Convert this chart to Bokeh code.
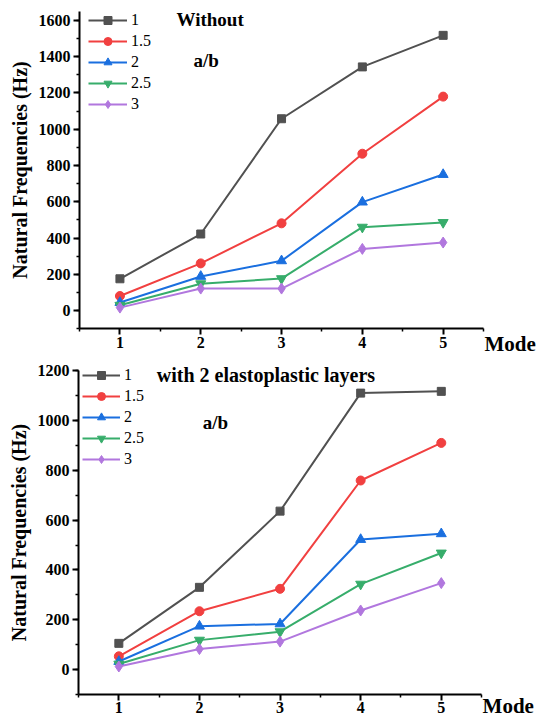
from bokeh.plotting import figure
from bokeh.layouts import column
from bokeh.models import Legend, LegendItem, Label, FixedTicker, Range1d
from bokeh.embed import file_html
from bokeh.resources import INLINE

# Vibration modes on the x axis
modes = [1, 2, 3, 4, 5]

# Aspect ratios a/b shown in the legends
ratios = ["1", "1.5", "2", "2.5", "3"]

# Natural frequencies (Hz) without elastoplastic layers
without_1 = [175, 422, 1058, 1344, 1518]
without_1_5 = [80, 260, 481, 865, 1180]
without_2 = [44, 188, 274, 598, 750]
without_2_5 = [29, 148, 176, 460, 486]
without_3 = [16, 121, 121, 340, 375]

# Natural frequencies (Hz) with 2 elastoplastic layers
layers_1 = [105, 330, 636, 1110, 1117]
layers_1_5 = [53, 234, 324, 759, 910]
layers_2 = [32, 174, 183, 522, 545]
layers_2_5 = [22, 118, 152, 343, 468]
layers_3 = [12, 82, 112, 237, 347]

COLORS = ["#515151", "#F14040", "#1A6FDF", "#37AD6B", "#B177DE"]
MARKERS = ["square", "circle", "triangle", "inverted_triangle", "diamond"]
SIZES = [8, 9, 10, 10, 11]
SERIF = "Liberation Serif"
W = 538


def make_panel(series, height, y_end, y_major, x_view, y_view, title,
               title_size, title_xy, ab_xy, legend_pos, mode_dy, glyph_w):
    # The frame spans the whole canvas; the axes sit at fixed data
    # positions inside it so every label can be drawn without clipping.
    p = figure(
        width=W, height=height, frame_width=W, frame_height=height,
        x_range=Range1d(*x_view), y_range=Range1d(*y_view),
        output_backend="svg", toolbar_location=None,
        min_border=0, background_fill_color="white",
        border_fill_color="white",
    )
    p.outline_line_color = None
    p.grid.visible = False

    xa, ya = p.xaxis[0], p.yaxis[0]
    xa.fixed_location = -100
    xa.bounds = (0.5, 5.5)
    ya.fixed_location = 0.5
    ya.bounds = (-100, y_end)

    xa.ticker = FixedTicker(ticks=modes,
                            minor_ticks=[m - 0.5 for m in modes] + [5.5])
    ya.ticker = FixedTicker(ticks=y_major,
                            minor_ticks=list(range(-100, y_end + 1, 100)))

    for ax in (xa, ya):
        ax.axis_line_width = 2
        ax.axis_line_color = "black"
        ax.major_tick_line_width = 2
        ax.major_tick_line_color = "black"
        ax.minor_tick_line_width = 1.5
        ax.minor_tick_line_color = "black"
        ax.major_tick_in = 0
        ax.major_tick_out = 6
        ax.minor_tick_in = 0
        ax.minor_tick_out = 3
        ax.major_label_text_font = SERIF
        ax.major_label_text_font_style = "bold"
        ax.major_label_text_font_size = "16px"
        ax.major_label_text_color = "black"
    xa.major_label_standoff = 2
    ya.major_label_standoff = 3
    ya.axis_label = "Natural Frequencies (Hz)"
    ya.axis_label_text_font = SERIF
    ya.axis_label_text_font_style = "bold"
    ya.axis_label_text_font_size = "20px"
    ya.axis_label_text_color = "black"
    ya.axis_label_standoff = 5

    items = []
    for vals, lab, col, mk, sz in zip(series, ratios, COLORS, MARKERS, SIZES):
        r1 = p.line(modes, vals, line_color=col, line_width=2)
        r2 = p.scatter(modes, vals, marker=mk, size=sz,
                       fill_color=col, line_color=col)
        items.append(LegendItem(label=lab, renderers=[r1, r2]))

    legend = Legend(items=items, location=legend_pos)
    legend.padding = 0
    legend.margin = 0
    legend.spacing = 1
    legend.glyph_width = glyph_w
    legend.glyph_height = 20
    legend.label_height = 20
    legend.label_standoff = 4
    legend.label_text_font = SERIF
    legend.label_text_font_size = "16px"
    legend.label_text_color = "black"
    legend.border_line_color = None
    legend.background_fill_alpha = 0
    p.add_layout(legend, "center")

    for text, size, (tx, ty) in ((title, title_size, title_xy),
                                 ("a/b", "19px", ab_xy)):
        p.add_layout(Label(x=tx, y=ty, text=text, text_font=SERIF,
                           text_font_style="bold", text_font_size=size,
                           text_baseline="middle", text_align="left",
                           text_color="black"))

    p.add_layout(Label(x=5.5, y=-100, x_offset=1, y_offset=mode_dy,
                       text="Mode", text_font=SERIF, text_font_style="bold",
                       text_font_size="21px", text_baseline="middle",
                       text_align="left", text_color="black"))
    return p


top = make_panel(
    [without_1, without_1_5, without_2, without_2_5, without_3],
    height=359, y_end=1650, y_major=list(range(0, 1601, 200)),
    x_view=(-0.478, 6.18), y_view=(-270.3, 1710.3),
    title="Without", title_size="19px",
    title_xy=(1.70, 1605), ab_xy=(1.91, 1379),
    legend_pos=(88, 359 - 10 - 104), mode_dy=-15, glyph_w=39,
)

bottom = make_panel(
    [layers_1, layers_1_5, layers_2, layers_2_5, layers_3],
    height=360, y_end=1200, y_major=list(range(0, 1201, 200)),
    x_view=(-0.468, 6.206), y_view=(-200.8, 1245.0),
    title="with 2 elastoplastic layers", title_size="20px",
    title_xy=(1.47, 1181), ab_xy=(2.04, 992),
    legend_pos=(82, 360 - 6 - 104), mode_dy=-12, glyph_w=38,
)

layout = column(top, bottom, spacing=0)

with open("out.html", "w") as f:
    f.write(file_html(layout, INLINE))
